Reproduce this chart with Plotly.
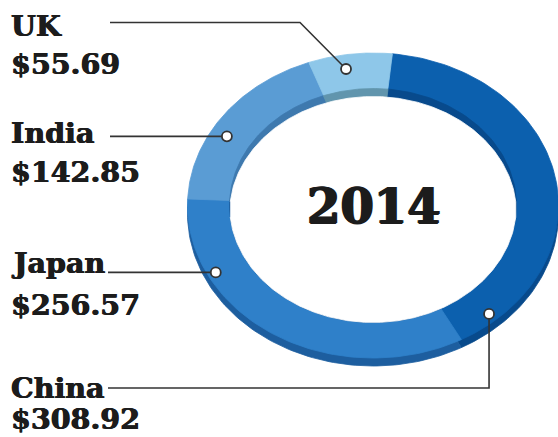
import numpy as np
import plotly.graph_objects as go

# Spending by country, 2014 (US$)
countries = ["China", "Japan", "India", "UK"]
values = [308.92, 256.57, 142.85, 55.69]
value_labels = ["$308.92", "$256.57", "$142.85", "$55.69"]
year_label = "2014"

# Top-face and side-wall colours for each slice
face_colors = ["#0c60ae", "#2f80c9", "#5a9cd4", "#8ec7e9"]
wall_colors = ["#084a8c", "#1d5e9f", "#3e79ae", "#6195ad"]

# Ring geometry (drawn on a pixel-sized cartesian frame)
CX, CY = 373, 205.5
A_OUT, B_OUT = 185.5, 152.5
A_IN, B_IN = 143.5, 117
DEPTH = 8
ROTATION = 6  # degrees clockwise from 12 o'clock where the first slice starts

FONT = "DejaVu Serif"
INK = "#1c1c1c"
LINE = "#333333"
HEAVY = "0.6px 0 0 #1c1c1c, -0.4px 0 0 #1c1c1c"
HEAVIER = "1px 0 0 #1c1c1c, -1px 0 0 #1c1c1c, 0 0.6px 0 #1c1c1c"


def arc(a, b, t0, t1, dy=0.0, n=90):
    th = np.radians(np.linspace(t0, t1, n))
    return CX + a * np.sin(th), CY + dy - b * np.cos(th)


def sector(a, b, t0, t1, dy=0.0):
    x, y = arc(a, b, t0, t1, dy)
    return np.r_[CX, x, CX], np.r_[CY + dy, y, CY + dy]


total = float(sum(values))
edges = ROTATION + 360.0 * np.concatenate([[0.0], np.cumsum(values)]) / total

fig = go.Figure()


def poly(x, y, color):
    fig.add_trace(go.Scatter(
        x=x, y=y, mode="lines", fill="toself", fillcolor=color,
        line=dict(color=color, width=0.8), hoverinfo="skip", showlegend=False,
    ))


# outer side wall (seen below the ring)
for i in range(len(values)):
    x, y = sector(A_OUT, B_OUT, edges[i], edges[i + 1], dy=DEPTH)
    poly(x, y, wall_colors[i])

# top face of the ring
for i in range(len(values)):
    x, y = sector(A_OUT, B_OUT, edges[i], edges[i + 1])
    poly(x, y, face_colors[i])

# inner wall (visible at the far side of the hole)
for i in range(len(values)):
    x, y = sector(A_IN, B_IN, edges[i], edges[i + 1])
    poly(x, y, wall_colors[i])

# the open hole: intersection of the top and bottom inner edges
xs = np.linspace(-A_IN, A_IN, 400)
half = B_IN * np.sqrt(np.clip(1 - (xs / A_IN) ** 2, 0, 1))
top = CY + DEPTH - half
bot = CY + half
ok = top < bot
hx = CX + xs[ok]
poly(np.r_[hx, hx[::-1]], np.r_[top[ok], bot[ok][::-1]], "#ffffff")

# label anchors on the ring: (angle, fraction across ring width)
anchors = {"UK": (350.8, 0.6), "India": (300.0, 0.6),
           "Japan": (242.6, 0.8), "China": (138.7, 0.77)}


def anchor_point(name):
    ang, t = anchors[name]
    a = A_IN + t * (A_OUT - A_IN)
    b = B_IN + t * (B_OUT - B_IN)
    th = np.radians(ang)
    return CX + a * np.sin(th), CY - b * np.cos(th)


name_y = {"UK": 26, "India": 132.5, "Japan": 263, "China": 387.5}
value_y = {"UK": 64, "India": 171.5, "Japan": 305, "China": 419}

dots_x, dots_y = [], []
for name, val in zip(countries, value_labels):
    px, py = anchor_point(name)
    dots_x.append(px)
    dots_y.append(py)
    if name == "UK":
        lx, ly = [110, 300, px], [22.5, 22.5, py]
    elif name == "China":
        lx, ly = [108, px, px], [388, 388, py]
    else:
        lx, ly = [110 if name == "India" else 108, px], [py, py]
    fig.add_trace(go.Scatter(x=lx, y=ly, mode="lines",
                             line=dict(color=LINE, width=1.6),
                             hoverinfo="skip", showlegend=False))
    fig.add_annotation(x=10, y=name_y[name], text=f"<b>{name}</b>",
                       xanchor="left", yanchor="middle", showarrow=False,
                       borderpad=0,
                       font=dict(family=FONT, size=28.5, color=INK, shadow=HEAVY))
    fig.add_annotation(x=10, y=value_y[name], text=f"<b>{val}</b>",
                       xanchor="left", yanchor="middle", showarrow=False,
                       borderpad=0,
                       font=dict(family=FONT, size=28.5, color=INK, shadow=HEAVY))

fig.add_trace(go.Scatter(
    x=dots_x, y=dots_y, mode="markers",
    marker=dict(size=10, color="#ffffff", line=dict(color=LINE, width=1.8)),
    hoverinfo="skip", showlegend=False,
))

fig.add_annotation(x=CX + 1, y=CY, text=f"<b>{year_label}</b>",
                   xanchor="center", yanchor="middle", showarrow=False,
                   font=dict(family=FONT, size=48, color=INK, shadow=HEAVIER))

fig.update_layout(
    width=558, height=437,
    margin=dict(l=0, r=0, t=0, b=0),
    paper_bgcolor="#ffffff", plot_bgcolor="#ffffff",
    xaxis=dict(range=[0, 558], visible=False, fixedrange=True),
    yaxis=dict(range=[437, 0], visible=False, fixedrange=True),
)

fig.write_html("out.html", config={"displayModeBar": False})
